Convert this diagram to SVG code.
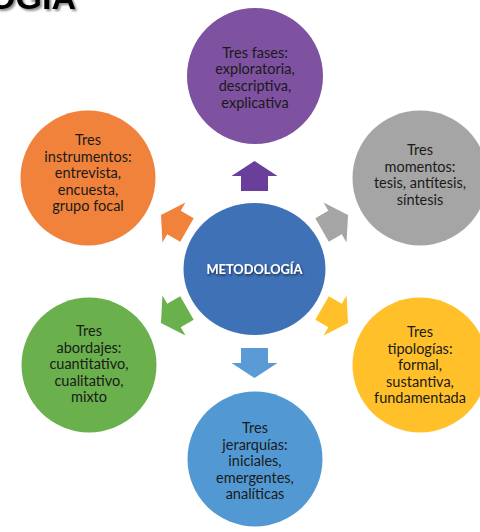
<svg xmlns="http://www.w3.org/2000/svg" width="480" height="532" viewBox="0 0 480 532">
<defs>
<style>
.t{font-family:Lato,"Liberation Sans",sans-serif;font-size:14.5px;fill:#1a1a1a;text-anchor:middle}
.c{font-family:Lato,"Liberation Sans",sans-serif;font-size:14px;font-weight:bold;fill:#ffffff;text-anchor:middle}
.title{font-family:"Liberation Sans",Arial,sans-serif;font-size:34px;font-weight:bold;fill:#000;text-anchor:end}
</style>
<filter id="sh" x="-20%" y="-40%" width="140%" height="180%">
<feDropShadow dx="1" dy="1.5" stdDeviation="0.8" flood-color="#000" flood-opacity="0.6"/>
</filter>
<filter id="tsh" x="-20%" y="-40%" width="140%" height="180%">
<feDropShadow dx="2" dy="2" stdDeviation="1.2" flood-color="#000" flood-opacity="0.45"/>
</filter>
<path id="arr" d="M0,-15 L23,0 L13.5,0 L13.5,15 L-13.5,15 L-13.5,0 L-23,0 Z"/>
</defs>
<rect width="480" height="532" fill="#ffffff"/>
<text class="title" x="76" y="9" filter="url(#tsh)">OGÍA</text>

<g id="connectors">
<use href="#arr" fill="#6A3F9C" transform="translate(254.5,269) rotate(0) translate(0,-93)"/>
<use href="#arr" fill="#A5A5A5" transform="translate(254.5,269) rotate(60) translate(0,-93)"/>
<use href="#arr" fill="#FFC02A" transform="translate(254.5,269) rotate(120) translate(0,-93)"/>
<use href="#arr" fill="#5B9BD5" transform="translate(254.5,269) rotate(180) translate(0,-94)"/>
<use href="#arr" fill="#6AB04C" transform="translate(254.5,269) rotate(240) translate(0,-93)"/>
<use href="#arr" fill="#F0823C" transform="translate(254.5,269) rotate(300) translate(0,-93)"/>
</g>

<g id="center">
<ellipse cx="254.5" cy="269" rx="71" ry="66" fill="#3F71B7"/>
<text class="c" x="254.5" y="274" textLength="96" lengthAdjust="spacingAndGlyphs" filter="url(#sh)">METODOLOGÍA</text>
</g>

<g id="fases">
<circle cx="255" cy="76" r="68" fill="#7E51A1"/>
<text class="t" x="255" y="57.5">Tres fases:</text>
<text class="t" x="255" y="74.2">exploratoria,</text>
<text class="t" x="255" y="90.9">descriptiva,</text>
<text class="t" x="255" y="107.6">explicativa</text>
</g>

<g id="momentos">
<circle cx="420" cy="178" r="67.5" fill="#A5A5A5"/>
<text class="t" x="420" y="155">Tres</text>
<text class="t" x="420" y="171.5">momentos:</text>
<text class="t" x="420" y="188">tesis, antítesis,</text>
<text class="t" x="420" y="204.5">síntesis</text>
</g>

<g id="tipologias">
<circle cx="420" cy="365" r="67.5" fill="#FFC02A"/>
<text class="t" x="420" y="337">Tres</text>
<text class="t" x="420" y="353.5">tipologías:</text>
<text class="t" x="420" y="370">formal,</text>
<text class="t" x="420" y="386.5">sustantiva,</text>
<text class="t" x="420" y="403">fundamentada</text>
</g>

<g id="jerarquias">
<circle cx="255" cy="459" r="67.5" fill="#5299D3"/>
<text class="t" x="255" y="433">Tres</text>
<text class="t" x="255" y="449.5">jerarquías:</text>
<text class="t" x="255" y="466">iniciales,</text>
<text class="t" x="255" y="482.5">emergentes,</text>
<text class="t" x="255" y="499">analíticas</text>
</g>

<g id="abordajes">
<circle cx="89" cy="365" r="67.5" fill="#6AB04C"/>
<text class="t" x="89" y="336">Tres</text>
<text class="t" x="89" y="352.5">abordajes:</text>
<text class="t" x="89" y="369">cuantitativo,</text>
<text class="t" x="89" y="385.5">cualitativo,</text>
<text class="t" x="89" y="402">mixto</text>
</g>

<g id="instrumentos">
<circle cx="88" cy="178" r="67.5" fill="#F0823C"/>
<text class="t" x="88" y="145">Tres</text>
<text class="t" x="88" y="161.5">instrumentos:</text>
<text class="t" x="88" y="178">entrevista,</text>
<text class="t" x="88" y="194.5">encuesta,</text>
<text class="t" x="88" y="211">grupo focal</text>
</g>
</svg>
